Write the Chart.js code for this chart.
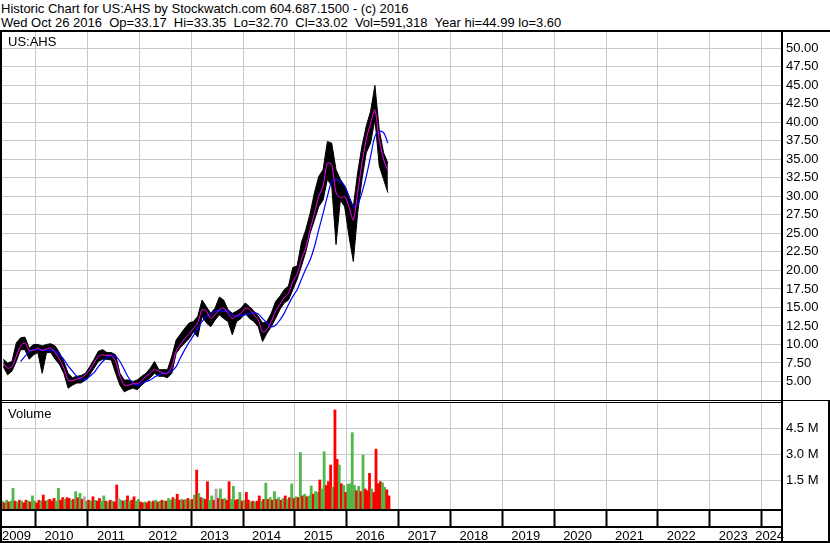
<!DOCTYPE html>
<html>
<head>
<meta charset="utf-8">
<script src="https://cdn.jsdelivr.net/npm/chart.js@4.4.0/dist/chart.umd.min.js"></script>
<style>
body { margin:0; width:830px; height:543px; background:#fff; position:relative; overflow:hidden; font-family:"Liberation Sans", Arial, sans-serif; }
.txt { position:absolute; font-size:13px; color:#000; white-space:pre; line-height:14.4px; }
.ln { position:absolute; background:#000; }
canvas { position:absolute; }
</style>
</head>
<body>
<div class="txt" style="left:1px;top:2px">Historic Chart for US:AHS by Stockwatch.com 604.687.1500 - (c) 2016
Wed Oct 26 2016  Op=33.17  Hi=33.35  Lo=32.70  Cl=33.02  Vol=591,318  Year hi=44.99 lo=3.60</div>
<canvas id="price" width="830" height="368" style="left:0;top:32px"></canvas>
<canvas id="volume" width="830" height="141" style="left:0;top:402px"></canvas>
<div class="txt" style="left:8px;top:35px;line-height:13px">US:AHS</div>
<div class="txt" style="left:8px;top:407px;line-height:13px">Volume</div>

<!-- frame lines -->
<div class="ln" style="left:0;top:30px;width:830px;height:2px"></div>
<div class="ln" style="left:0;top:30px;width:2px;height:513px"></div>
<div class="ln" style="left:781px;top:30px;width:2px;height:513px"></div>
<div class="ln" style="left:0;top:400px;width:830px;height:1px"></div>
<div class="ln" style="left:0;top:402px;width:782px;height:1px"></div>
<div class="ln" style="left:0;top:509px;width:782px;height:2px"></div>
<div class="ln" style="left:0;top:526px;width:782px;height:2px"></div>
<div class="ln" style="left:0;top:541px;width:830px;height:2px"></div>
<div class="ln" style="left:828px;top:400px;width:2px;height:143px"></div>

<script>
// monthly price range, May 2009 .. Oct 2016
const startYear = 2009 + 4 / 12;

const priceLow = [7.0, 5.9, 6.4, 7.7, 9.3, 9.3, 8.0, 8.6, 8.9, 6.1,
    8.9, 8.9, 8.0, 7.3, 6.1, 4.1, 4.5, 4.8, 4.8, 5.2,
    5.9, 6.8, 7.7, 8.0, 8.0, 7.9, 6.1, 4.5, 3.6, 3.9,
    4.1, 3.9, 4.5, 5.0, 5.5, 6.1, 5.7, 5.7, 5.5, 6.1,
    8.8, 9.6, 10.2, 10.8, 11.7, 11.0, 13.8, 12.9, 12.4, 13.3,
    14.0, 13.5, 13.1, 11.3, 13.1, 13.5, 14.2, 13.5, 13.1, 12.4,
    10.4, 11.5, 12.4, 13.5, 14.7, 15.6, 16.0, 17.4, 18.8, 20.6,
    22.5, 25.0, 26.8, 28.6, 29.5, 32.3, 31.4, 23.5, 29.5, 28.6,
    24.6, 21.2, 27.7, 32.3, 35.9, 37.2, 40.4, 34.1, 32.3, 30.5];

const priceHigh = [8.0, 7.5, 7.7, 10.2, 10.9, 11.0, 9.5, 10.0, 10.0, 9.8,
    10.0, 10.1, 9.8, 8.9, 7.7, 6.1, 5.5, 5.7, 5.8, 6.1,
    7.0, 8.0, 9.1, 9.3, 8.9, 8.9, 8.6, 6.1, 5.2, 5.2,
    5.0, 5.2, 5.7, 6.1, 6.8, 7.7, 6.6, 6.6, 6.6, 8.4,
    10.6, 11.4, 12.2, 12.9, 13.1, 13.8, 16.0, 15.1, 14.2, 14.9,
    16.4, 16.0, 14.7, 14.2, 14.5, 14.9, 15.6, 15.1, 14.5, 13.8,
    12.9, 13.1, 14.2, 15.8, 16.5, 17.4, 17.9, 20.4, 20.6, 23.8,
    25.5, 27.7, 30.5, 32.7, 33.6, 37.4, 37.2, 33.6, 32.3, 31.4,
    30.0, 28.6, 33.2, 36.8, 39.5, 41.5, 44.99, 39.0, 35.9, 34.5];

// short moving average (magenta)
const maFast = [7.5, 6.8, 7.0, 8.4, 9.8, 10.2, 9.2, 9.2, 9.5, 9.2,
    9.4, 9.5, 8.9, 8.0, 6.8, 5.2, 5.1, 5.3, 5.5, 5.9,
    6.6, 7.5, 8.4, 8.6, 8.5, 8.5, 7.7, 5.7, 4.5, 4.5,
    4.7, 4.7, 5.1, 5.7, 6.1, 6.6, 6.4, 6.1, 6.1, 7.0,
    9.1, 10.0, 10.8, 11.4, 12.2, 12.9, 14.7, 14.5, 13.5, 14.0,
    14.7, 14.9, 14.2, 13.5, 13.9, 14.2, 14.9, 14.7, 14.0, 13.3,
    11.7, 12.0, 13.1, 14.5, 15.4, 16.3, 16.9, 18.5, 19.5, 21.5,
    23.1, 25.5, 27.7, 30.0, 31.4, 34.5, 34.3, 30.5, 29.8, 30.0,
    28.6, 26.8, 30.5, 34.5, 37.7, 39.9, 41.7, 37.7, 35.0, 33.4];

// long moving average (blue)
const maSlow = [null, null, null, null, 7.7, 8.4, 9.0, 9.3, 9.3, 9.2,
    9.2, 9.2, 9.1, 8.6, 8.0, 7.1, 6.4, 5.7, 5.3, 5.2,
    5.7, 6.2, 7.0, 7.7, 8.2, 8.5, 8.4, 7.7, 6.6, 5.5,
    4.8, 4.5, 4.7, 5.0, 5.2, 5.6, 5.9, 6.1, 6.2, 6.4,
    7.0, 8.2, 9.3, 10.3, 11.2, 12.2, 13.1, 13.8, 14.1, 14.5,
    14.6, 14.5, 14.5, 14.0, 13.8, 13.9, 14.0, 14.2, 14.3, 14.1,
    13.5, 12.9, 12.4, 12.6, 13.3, 14.2, 15.4, 16.5, 17.4, 18.8,
    20.2, 21.4, 23.2, 25.5, 27.7, 30.0, 32.0, 32.3, 32.0, 31.4,
    30.0, 28.6, 28.9, 30.5, 32.7, 35.4, 38.1, 38.8, 38.6, 37.2];

// volume in millions, two bars a month
const volume = [0.3, 0.2, 0.35, 0.25, 0.3, 1.04, 0.3, 0.25, 0.35, 0.3,
    0.2, 0.35, 0.3, 0.25, 0.6, 0.3, 0.2, 0.35, 0.3, 0.65,
    0.3, 0.35, 0.4, 0.3, 0.45, 0.3, 1.04, 0.35, 0.5, 0.4,
    0.5, 0.45, 0.35, 0.4, 0.85, 0.5, 0.75, 0.4, 0.55, 0.3,
    0.35, 0.3, 0.55, 0.35, 0.3, 0.45, 0.3, 0.6, 0.3, 0.25,
    0.35, 0.3, 0.25, 1.23, 0.45, 0.35, 0.3, 0.35, 0.6, 0.3,
    0.35, 0.55, 0.3, 0.4, 0.25, 0.2, 0.25, 0.2, 0.3, 0.25,
    0.3, 0.35, 0.25, 0.3, 0.35, 0.3, 0.3, 0.45, 0.35, 0.5,
    0.4, 0.7, 0.35, 0.4, 0.35, 0.4, 0.45, 0.35, 0.4, 0.65,
    2.09, 0.75, 0.5, 0.45, 0.4, 1.42, 0.35, 0.6, 0.35, 1.0,
    0.45, 1.0, 0.4, 0.45, 0.35, 1.42, 0.4, 1.15, 0.35, 0.4,
    0.8, 0.3, 0.35, 0.8, 0.35, 0.25, 0.3, 0.25, 0.3, 0.6,
    0.3, 0.4, 1.34, 0.4, 0.5, 0.35, 0.85, 0.4, 0.5, 0.35,
    0.45, 0.6, 0.4, 0.5, 1.29, 0.45, 0.55, 0.5, 3.1, 0.6,
    0.7, 0.55, 0.6, 1.17, 0.7, 0.85, 0.8, 1.52, 1.0, 3.15,
    1.2, 1.42, 2.38, 1.1, 5.56, 2.71, 2.38, 1.3, 1.2, 0.8,
    1.27, 1.3, 4.25, 1.2, 0.9, 1.15, 0.85, 2.96, 1.0, 0.9,
    1.9, 1.0, 0.8, 3.3, 1.3, 1.42, 1.35, 1.1, 0.95, 0.6];

// g = up, r = down, x = unchanged
const volumeDir = "grgrggrgrg" + "rrgrggrrgr" + "rgrrrggrrg" + "rrgrgrgrxg" + "rgrgrrggrg" +
    "rgrrxgrgrg" + "rrggrrgrrg" + "rgrgrgrggr" + "grrgrgrgrg" + "rgrgrrggrx" +
    "rgrgrrggrr" + "grgrrgrgrr" + "grgrgrgrgr" + "grgrgrgrgr" + "grggrggrgg" +
    "rrrgrrgrgr" + "ggggrgrgrr" + "rgrrrrggrr";

const priceTicks = [5.0, 7.5, 10.0, 12.5, 15.0, 17.5, 20.0, 22.5, 25.0, 27.5,
    30.0, 32.5, 35.0, 37.5, 40.0, 42.5, 45.0, 47.5, 50.0];
const volumeTicks = [1.5, 3.0, 4.5];
const yearLabels = ["2009", "2010", "2011", "2012", "2013", "2014", "2015", "2016",
    "2017", "2018", "2019", "2020", "2021", "2022", "2023", "2024"];

const xMin = 2009.35, xMax = 2024.392;
const gridGray = "#c8c8c8";
const dirColors = { g: "#4fb848", r: "#ff0000", x: "#a8a8a8" };

Chart.defaults.font.family = '"Liberation Sans", Arial, sans-serif';
Chart.defaults.font.size = 13;
Chart.defaults.color = "#000";

// x positions (decimal years)
const monthX = priceLow.map((v, i) => startYear + (i + 0.5) / 12);
const halfX = volume.map((v, j) => startYear + (j + 0.5) / 24);

// year boundary ticks, plus label ticks sitting inside each year
let yearLines = [];
for (let i = 1; i < yearLabels.length; i++) yearLines.push(Number(yearLabels[i]));

let axisTicks = [{ value: xMin, label: yearLabels[0], line: false }];
for (let i = 1; i < yearLabels.length; i++) {
    let yr = Number(yearLabels[i]);
    axisTicks.push({ value: yr, label: "", line: true });
    let pos = (i === yearLabels.length - 1) ? xMax + 0.04 : yr + 0.45;
    axisTicks.push({ value: pos, label: yearLabels[i], line: false });
}

function fixWidth(w) {
    return s => { s.width = w; s.paddingTop = 0; s.paddingBottom = 0; };
}
function fixHeight(h) {
    return s => { s.height = h; s.paddingLeft = 0; s.paddingRight = 0; };
}

const noPlugins = { legend: { display: false }, tooltip: { enabled: false } };

// price panel: hi/lo band in black, two averages on top
new Chart(document.getElementById("price"), {
    type: "line",
    data: {
        datasets: [
            {
                data: monthX.map((x, i) => ({ x: x, y: priceLow[i] })),
                borderColor: "#000", borderWidth: 1, pointRadius: 0, tension: 0, fill: false, order: 2
            },
            {
                data: monthX.map((x, i) => ({ x: x, y: priceHigh[i] })),
                borderColor: "#000", borderWidth: 1, pointRadius: 0, tension: 0,
                fill: "-1", backgroundColor: "#000", order: 2
            },
            {
                data: monthX.map((x, i) => ({ x: x, y: maFast[i] })),
                borderColor: "#ff00ff", borderWidth: 1, pointRadius: 0, tension: 0.25, order: 0
            },
            {
                data: monthX.map((x, i) => ({ x: x, y: maSlow[i] })),
                borderColor: "#0000ff", borderWidth: 1.2, pointRadius: 0, tension: 0.3, order: 0
            }
        ]
    },
    options: {
        responsive: false, animation: false, events: [],
        layout: { padding: { left: 2, top: 0, right: 0, bottom: 0 } },
        plugins: noPlugins,
        scales: {
            x: {
                type: "linear", min: xMin, max: xMax, offset: false,
                afterBuildTicks: s => { s.ticks = yearLines.map(v => ({ value: v })); },
                ticks: { display: false },
                grid: { color: gridGray, drawTicks: false, offset: false },
                border: { display: false },
                afterFit: fixHeight(0)
            },
            y: {
                position: "right", min: 2.5, max: 52.2,
                afterBuildTicks: s => { s.ticks = priceTicks.map(v => ({ value: v })); },
                ticks: { padding: 4, autoSkip: false, callback: v => v.toFixed(2) },
                grid: { color: gridGray, drawTicks: false },
                border: { display: false },
                afterFit: fixWidth(48)
            }
        }
    }
});

// volume panel with the year axis
new Chart(document.getElementById("volume"), {
    type: "bar",
    data: {
        datasets: [{
            data: halfX.map((x, j) => ({ x: x, y: volume[j] })),
            backgroundColor: volume.map((v, j) => dirColors[volumeDir[j]]),
            base: -0.156, barPercentage: 1, categoryPercentage: 1, grouped: false
        }]
    },
    options: {
        responsive: false, animation: false, events: [],
        layout: { padding: { left: 2, top: 0, right: 0, bottom: 0 } },
        plugins: noPlugins,
        scales: {
            x: {
                type: "linear", min: xMin, max: xMax, offset: false,
                afterBuildTicks: s => { s.ticks = axisTicks.map(t => ({ value: t.value })); },
                ticks: {
                    autoSkip: false, maxRotation: 0, minRotation: 0, align: "inner", padding: 3,
                    callback: (v, i) => axisTicks[i].label
                },
                grid: {
                    offset: false, tickLength: 17,
                    color: ctx => axisTicks[ctx.index] && axisTicks[ctx.index].line ? gridGray : "rgba(0,0,0,0)",
                    tickColor: ctx => axisTicks[ctx.index] && axisTicks[ctx.index].line ? "#000" : "rgba(0,0,0,0)",
                    tickWidth: 2
                },
                border: { display: false },
                afterFit: fixHeight(34)
            },
            y: {
                position: "right", min: -0.156, max: 6.02,
                afterBuildTicks: s => { s.ticks = volumeTicks.map(v => ({ value: v })); },
                ticks: { padding: 4, autoSkip: false, callback: v => v.toFixed(1) + " M" },
                grid: { color: gridGray, drawTicks: false },
                border: { display: false },
                afterFit: fixWidth(48)
            }
        }
    }
});
</script>
</body>
</html>
